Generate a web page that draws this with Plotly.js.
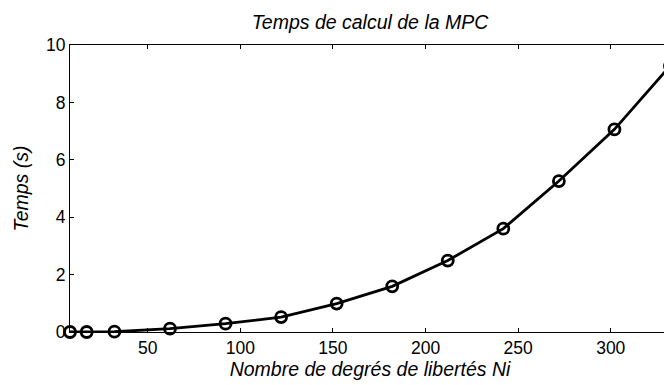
<!DOCTYPE html>
<html>
<head>
<meta charset="utf-8">
<script src="https://cdn.plot.ly/plotly-3.0.1.min.js"></script>
<style>
html,body{margin:0;padding:0;overflow:hidden;background:#fff;}
#chart{width:670px;height:385px;}
</style>
</head>
<body>
<div id="chart"></div>
<script>
var ni = [8, 17, 32, 62, 92, 122, 152, 182, 212, 242, 272, 302, 332];
var temps = [0.0, 0.0, 0.01, 0.115, 0.29, 0.52, 0.99, 1.59, 2.49, 3.6, 5.26, 7.06, 9.27];
var yTicks = [0, 2, 4, 6, 8, 10];
var xTicks = [50, 100, 150, 200, 250, 300];

var font = "Liberation Sans, Arial, sans-serif";
var trace = {
  x: ni, y: temps, type: 'scatter', mode: 'lines+markers',
  line: {color: '#000', width: 2.8},
  marker: {symbol: 'circle-open', size: 11, color: '#000', line: {width: 2.8, color: '#000'}},
  cliponaxis: false
};
var layout = {
  width: 670, height: 385,
  margin: {l: 70, r: 0, t: 45, b: 53},
  paper_bgcolor: '#fff', plot_bgcolor: '#fff',
  showlegend: false,
  title: {text: '<i>Temps de calcul de la MPC</i>', font: {family: font, size: 19.5, color: '#000'},
          x: 0.5, xanchor: 'center', xref: 'paper', y: 1 - 22/385, yanchor: 'middle', yref: 'container'},
  xaxis: {
    range: [8, 332], tickvals: xTicks, ticktext: xTicks.map(String),
    ticks: 'inside', ticklen: 4, tickcolor: '#000', tickwidth: 1,
    showline: true, linecolor: '#000', linewidth: 1, mirror: 'ticks',
    showgrid: false, zeroline: false,
    tickfont: {family: font, size: 17.5, color: '#000'},
    title: {text: '<i>Nombre de degrés de libertés Ni</i>', font: {family: font, size: 19.5, color: '#000'}, standoff: 3}
  },
  yaxis: {
    range: [0, 10], tickvals: yTicks, ticktext: yTicks.map(String),
    ticks: 'inside', ticklen: 4, tickcolor: '#000', tickwidth: 1,
    showline: true, linecolor: '#000', linewidth: 1, mirror: 'ticks',
    showgrid: false, zeroline: false,
    tickfont: {family: font, size: 17.5, color: '#000'},
    title: {text: '<i>Temps (s)</i>', font: {family: font, size: 19.5, color: '#000'}, standoff: 12}
  }
};
Plotly.newPlot('chart', [trace], layout, {displayModeBar: false, staticPlot: true});
</script>
</body>
</html>
